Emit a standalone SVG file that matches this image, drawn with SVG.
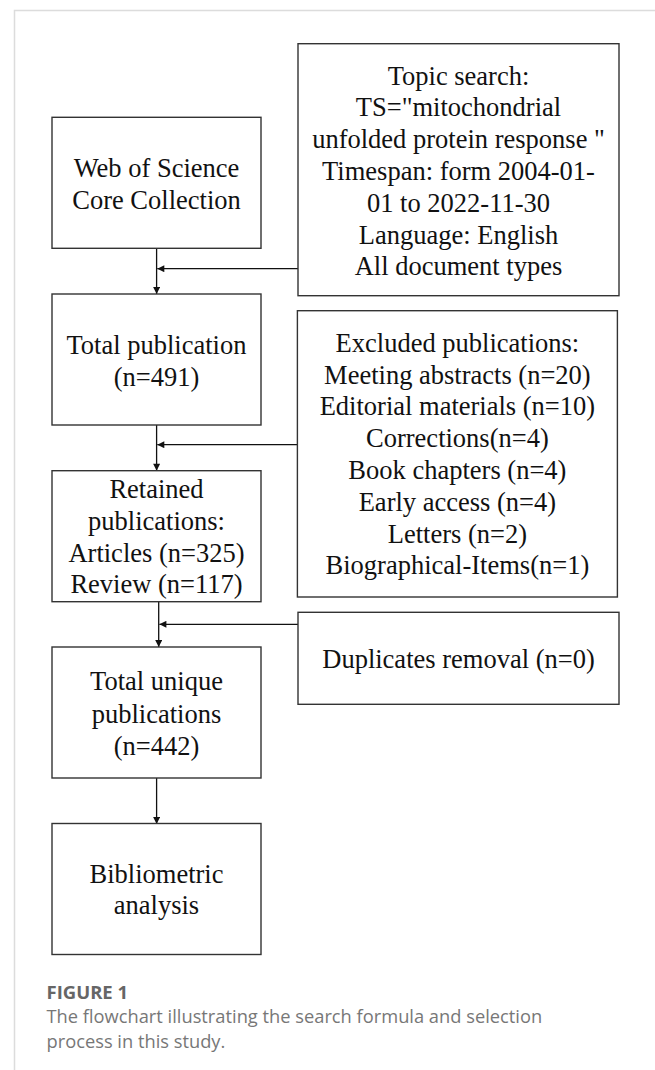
<svg xmlns="http://www.w3.org/2000/svg" width="655" height="1070" viewBox="0 0 655 1070">
<defs>
<marker id="ah" viewBox="0 0 10 10" refX="10" refY="5" markerWidth="9" markerHeight="7" orient="auto" markerUnits="userSpaceOnUse">
<path d="M0,0 L10,5 L0,10 Z" fill="#111"/>
</marker>
<style>
.box{fill:#fff;stroke:#333;stroke-width:1.4}
.t{font-family:"Liberation Serif","Times New Roman",serif;font-size:26.5px;fill:#111;text-anchor:middle}
.c{fill:none;stroke:#111;stroke-width:1.3;marker-end:url(#ah)}
.frame{stroke:#dcdcdc;stroke-width:1.5;fill:none}
.figlab{font-family:"Open Sans","Noto Sans",sans-serif;font-size:18.5px;font-weight:700;fill:#666}
.cap{font-family:"Open Sans","Noto Sans",sans-serif;font-size:18.3px;fill:#777}
</style>
</defs>
<rect width="655" height="1070" fill="#fff"/>
<path class="frame" d="M14.5,1070 V10.5 H655"/>

<g id="connectors">
<line class="c" x1="156.6" y1="248.3" x2="156.6" y2="294"/>
<line class="c" x1="298" y1="268.7" x2="157.3" y2="268.7"/>
<line class="c" x1="156.6" y1="425" x2="156.6" y2="470.7"/>
<line class="c" x1="297.4" y1="444.7" x2="157.3" y2="444.7"/>
<line class="c" x1="158.7" y1="601.7" x2="158.7" y2="647"/>
<line class="c" x1="298" y1="624.3" x2="159.4" y2="624.3"/>
<line class="c" x1="156.6" y1="778" x2="156.6" y2="824"/>
</g>

<g id="wos">
<rect class="box" x="52" y="117.3" width="209" height="131"/>
<text class="t" x="156.5" y="177">Web of Science</text>
<text class="t" x="156.5" y="208.5">Core Collection</text>
</g>

<g id="topic">
<rect class="box" x="298" y="43.7" width="321" height="252"/>
<text class="t" x="458.5" y="84.5">Topic search:</text>
<text class="t" x="458.5" y="116.3">TS="mitochondrial</text>
<text class="t" x="458.5" y="148.1">unfolded protein response "</text>
<text class="t" x="458.5" y="179.9">Timespan: form 2004-01-</text>
<text class="t" x="458.5" y="211.7">01 to 2022-11-30</text>
<text class="t" x="458.5" y="243.5">Language: English</text>
<text class="t" x="458.5" y="275.3">All document types</text>
</g>

<g id="total">
<rect class="box" x="52" y="294" width="209" height="131"/>
<text class="t" x="156.5" y="353.5">Total publication</text>
<text class="t" x="156.5" y="386">(n=491)</text>
</g>

<g id="excluded">
<rect class="box" x="297.4" y="310.7" width="320" height="286.3"/>
<text class="t" x="457.4" y="351.8">Excluded publications:</text>
<text class="t" x="457.4" y="383.6">Meeting abstracts (n=20)</text>
<text class="t" x="457.4" y="415.4">Editorial materials (n=10)</text>
<text class="t" x="457.4" y="447.2">Corrections(n=4)</text>
<text class="t" x="457.4" y="479">Book chapters (n=4)</text>
<text class="t" x="457.4" y="510.8">Early access (n=4)</text>
<text class="t" x="457.4" y="542.6">Letters (n=2)</text>
<text class="t" x="457.4" y="574.4">Biographical-Items(n=1)</text>
</g>

<g id="retained">
<rect class="box" x="52" y="470.7" width="209" height="131"/>
<text class="t" x="156.5" y="497.5">Retained</text>
<text class="t" x="156.5" y="529.8">publications:</text>
<text class="t" x="156.5" y="561.7">Articles (n=325)</text>
<text class="t" x="156.5" y="593">Review (n=117)</text>
</g>

<g id="duplicates">
<rect class="box" x="298" y="612.3" width="321" height="92"/>
<text class="t" x="458.5" y="668.4">Duplicates removal (n=0)</text>
</g>

<g id="unique">
<rect class="box" x="52" y="647" width="209" height="131"/>
<text class="t" x="156.5" y="690">Total unique</text>
<text class="t" x="156.5" y="722.8">publications</text>
<text class="t" x="156.5" y="755.2">(n=442)</text>
</g>

<g id="biblio">
<rect class="box" x="52" y="823.5" width="209" height="131"/>
<text class="t" x="156.5" y="882.8">Bibliometric</text>
<text class="t" x="156.5" y="913.5">analysis</text>
</g>

<g id="caption">
<text class="figlab" x="46.5" y="999.3">FIGURE 1</text>
<text class="cap" x="46.5" y="1023.3">The flowchart illustrating the search formula and selection</text>
<text class="cap" x="46.5" y="1048.3">process in this study.</text>
</g>
</svg>
